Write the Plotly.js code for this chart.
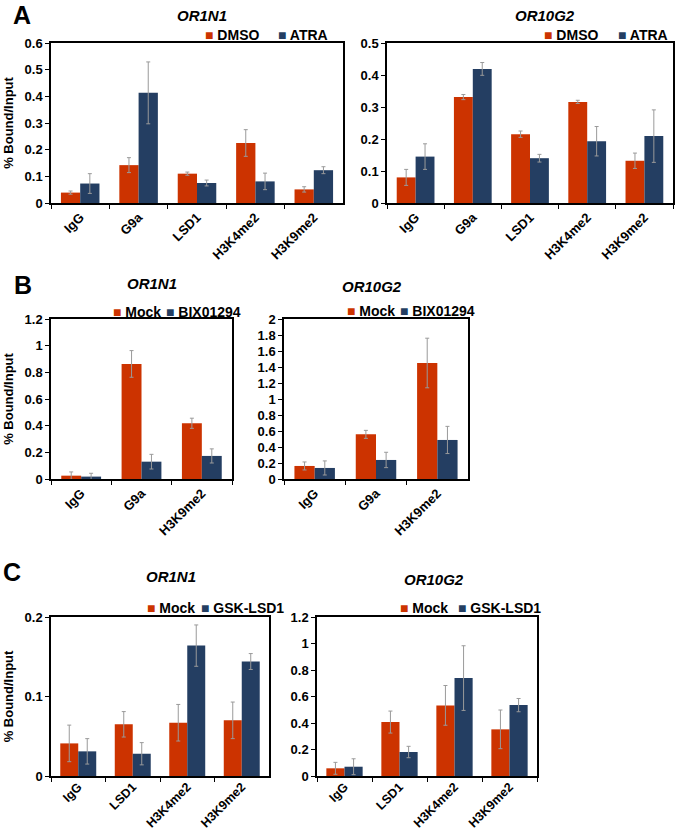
<!DOCTYPE html>
<html>
<head>
<meta charset="utf-8">
<script src="https://cdn.plot.ly/plotly-3.0.1.min.js"></script>
<style>html,body{margin:0;padding:0;background:#fff;}#chart{width:685px;height:831px;}</style>
</head>
<body>
<div id="chart"></div>
<script>
// ---------- DATA ----------
const categoriesA = ['IgG', 'G9a', 'LSD1', 'H3K4me2', 'H3K9me2'];
const dmsoOR1N1 = [0.039, 0.142, 0.110, 0.225, 0.051];
const dmsoOR1N1Err = [0.006, 0.028, 0.006, 0.050, 0.010];
const atraOR1N1 = [0.073, 0.413, 0.075, 0.081, 0.123];
const atraOR1N1Err = [0.037, 0.116, 0.011, 0.031, 0.013];
const dmsoOR10G2 = [0.080, 0.331, 0.215, 0.316, 0.132];
const dmsoOR10G2Err = [0.025, 0.008, 0.010, 0.005, 0.024];
const atraOR10G2 = [0.145, 0.419, 0.140, 0.193, 0.209];
const atraOR10G2Err = [0.040, 0.020, 0.012, 0.046, 0.082];

const categoriesB = ['IgG', 'G9a', 'H3K9me2'];
const mockB_OR1N1 = [0.025, 0.863, 0.418];
const mockB_OR1N1Err = [0.028, 0.100, 0.038];
const bixB_OR1N1 = [0.018, 0.130, 0.173];
const bixB_OR1N1Err = [0.025, 0.055, 0.053];
const mockB_OR10G2 = [0.163, 0.558, 1.450];
const mockB_OR10G2Err = [0.050, 0.050, 0.310];
const bixB_OR10G2 = [0.138, 0.238, 0.488];
const bixB_OR10G2Err = [0.088, 0.096, 0.170];

const categoriesC = ['IgG', 'LSD1', 'H3K4me2', 'H3K9me2'];
const mockC_OR1N1 = [0.041, 0.065, 0.067, 0.070];
const mockC_OR1N1Err = [0.023, 0.016, 0.023, 0.023];
const gskC_OR1N1 = [0.031, 0.028, 0.164, 0.144];
const gskC_OR1N1Err = [0.016, 0.014, 0.026, 0.010];
const mockC_OR10G2 = [0.058, 0.407, 0.533, 0.352];
const mockC_OR10G2Err = [0.045, 0.083, 0.150, 0.146];
const gskC_OR10G2 = [0.070, 0.181, 0.739, 0.535];
const gskC_OR10G2Err = [0.060, 0.043, 0.244, 0.050];

const seriesNamesA = ['DMSO', 'ATRA'];
const seriesNamesB = ['Mock', 'BIX01294'];
const seriesNamesC = ['Mock', 'GSK-LSD1'];

// ---------- STYLE ----------
const W = 685, H = 831;
const RED = '#CC3300', BLUE = '#243E62';
const FONT = 'Liberation Sans, Arial, sans-serif';
const px = v => v / W;
const py = v => 1 - v / H;

function bar(name, cats, vals, errs, color, xa, ya) {
  return {
    type: 'bar', name: name, x: cats, y: vals,
    xaxis: xa, yaxis: ya, showlegend: false,
    marker: {color: color, line: {width: 0}},
    error_y: {type: 'data', array: errs, visible: true, color: '#9a9a9a', thickness: 1, width: 2},
    hoverinfo: 'x+y'
  };
}

const data = [
  bar(seriesNamesA[0], categoriesA, dmsoOR1N1, dmsoOR1N1Err, RED, 'x', 'y'),
  bar(seriesNamesA[1], categoriesA, atraOR1N1, atraOR1N1Err, BLUE, 'x', 'y'),
  bar(seriesNamesA[0], categoriesA, dmsoOR10G2, dmsoOR10G2Err, RED, 'x2', 'y2'),
  bar(seriesNamesA[1], categoriesA, atraOR10G2, atraOR10G2Err, BLUE, 'x2', 'y2'),
  bar(seriesNamesB[0], categoriesB, mockB_OR1N1, mockB_OR1N1Err, RED, 'x3', 'y3'),
  bar(seriesNamesB[1], categoriesB, bixB_OR1N1, bixB_OR1N1Err, BLUE, 'x3', 'y3'),
  bar(seriesNamesB[0], categoriesB, mockB_OR10G2, mockB_OR10G2Err, RED, 'x4', 'y4'),
  bar(seriesNamesB[1], categoriesB, bixB_OR10G2, bixB_OR10G2Err, BLUE, 'x4', 'y4'),
  bar(seriesNamesC[0], categoriesC, mockC_OR1N1, mockC_OR1N1Err, RED, 'x5', 'y5'),
  bar(seriesNamesC[1], categoriesC, gskC_OR1N1, gskC_OR1N1Err, BLUE, 'x5', 'y5'),
  bar(seriesNamesC[0], categoriesC, mockC_OR10G2, mockC_OR10G2Err, RED, 'x6', 'y6'),
  bar(seriesNamesC[1], categoriesC, gskC_OR10G2, gskC_OR10G2Err, BLUE, 'x6', 'y6')
];

// panel boxes in pixels: [left, right, top, bottom]; legend: names, x of each key, centre y
const panels = [
  {box: [51, 343, 43, 203], range: [0, 0.6], dtick: 0.1, ytitle: true, names: seriesNamesA, legX: [204, 277], legY: 35, xfs: 13, so: 0},
  {box: [387, 673, 43, 203], range: [0, 0.5], dtick: 0.1, ytitle: false, names: seriesNamesA, legX: [543, 617], legY: 35, xfs: 13, so: 0},
  {box: [51, 232, 319, 479], range: [0, 1.2], dtick: 0.2, ytitle: true, names: seriesNamesB, legX: [112, 165], legY: 312, xfs: 13, so: 0},
  {box: [284, 468, 319, 479], range: [0, 2], dtick: 0.2, ytitle: false, names: seriesNamesB, legX: [346, 399], legY: 311, xfs: 13, so: 0},
  {box: [51, 269, 617, 776], range: [0, 0.2], dtick: 0.1, ytitle: true, names: seriesNamesC, legX: [146, 200], legY: 608, xfs: 12.5, so: -3},
  {box: [317, 537, 617, 776], range: [0, 1.2], dtick: 0.2, ytitle: false, names: seriesNamesC, legX: [399, 457], legY: 608, xfs: 12.5, so: -3}
];

const layout = {
  width: W, height: H,
  margin: {l: 0, r: 0, t: 0, b: 0},
  paper_bgcolor: '#fff', plot_bgcolor: '#fff',
  font: {family: FONT, color: '#000'},
  barmode: 'group', bargap: 0.34, bargroupgap: 0,
  showlegend: false,
  annotations: []
};

const legFont = {family: FONT, size: 14, weight: 'bold', color: '#000'};

panels.forEach((p, i) => {
  const n = i === 0 ? '' : String(i + 1);
  const [l, r, t, b] = p.box;
  layout['xaxis' + n] = {
    domain: [px(l), px(r)], anchor: 'y' + n, type: 'category',
    showline: true, mirror: true, linecolor: '#000', linewidth: 1.5,
    ticks: 'outside', tickson: 'boundaries', ticklen: 4, tickcolor: '#000', tickwidth: 1,
    tickangle: -45, showgrid: false, zeroline: false, fixedrange: true,
    ticklabelstandoff: p.so,
    tickfont: {family: FONT, size: p.xfs, weight: 'bold', color: '#000'}
  };
  layout['yaxis' + n] = {
    domain: [py(b), py(t)], anchor: 'x' + n,
    range: p.range, tick0: 0, dtick: p.dtick,
    showline: true, mirror: true, linecolor: '#000', linewidth: 1.5,
    ticks: 'outside', ticklen: 4, tickcolor: '#000', tickwidth: 1,
    showgrid: false, zeroline: false, fixedrange: true,
    tickfont: {family: FONT, size: 13, weight: 'bold', color: '#000'},
    title: p.ytitle ? {text: '% Bound/Input', font: {family: FONT, size: 13, weight: 'bold', color: '#000'}, standoff: 8} : {text: ''}
  };
  // legend keys
  [RED, BLUE].forEach((c, k) => {
    layout.annotations.push({
      text: '<span style="color:' + c + '">■</span> ' + p.names[k],
      xref: 'paper', yref: 'paper', x: px(p.legX[k] - 1), y: py(p.legY),
      xanchor: 'left', yanchor: 'middle', showarrow: false, font: legFont
    });
  });
});

const titles = [
  ['OR1N1', 202, 15], ['OR10G2', 545, 15],
  ['OR1N1', 152, 283], ['OR10G2', 372, 286],
  ['OR1N1', 171, 576], ['OR10G2', 434, 579]
];
titles.forEach(tt => layout.annotations.push({
  text: tt[0], xref: 'paper', yref: 'paper', x: px(tt[1]), y: py(tt[2]),
  xanchor: 'center', yanchor: 'middle', showarrow: false,
  font: {family: FONT, size: 15, weight: 'bold', style: 'italic', color: '#000'}
}));

const letters = [['A', 22, 15], ['B', 23, 285], ['C', 12, 572]];
letters.forEach(tt => layout.annotations.push({
  text: tt[0], xref: 'paper', yref: 'paper', x: px(tt[1]), y: py(tt[2]),
  xanchor: 'center', yanchor: 'middle', showarrow: false,
  font: {family: FONT, size: 25, weight: 'bold', color: '#000'}
}));

Plotly.newPlot('chart', data, layout, {displayModeBar: false});
</script>
</body>
</html>
